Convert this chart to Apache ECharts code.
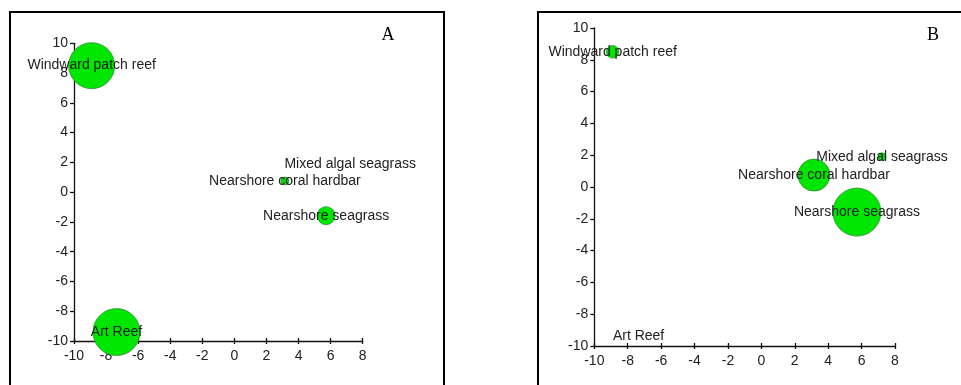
<!DOCTYPE html>
<html>
<head>
<meta charset="utf-8">
<script src="https://cdn.jsdelivr.net/npm/echarts@6/dist/echarts.min.js"></script>
<style>
html,body{margin:0;padding:0;background:#fff;}
#chart{width:961px;height:385px;}
</style>
</head>
<body>
<div id="chart"></div>
<script>
// Habitat names
var habitats = ['Windward patch reef', 'Art Reef', 'Nearshore coral hardbar', 'Nearshore seagrass', 'Mixed algal seagrass'];
// Ordination coordinates
var xCoord = [-8.9, -7.35, 3.15, 5.72, 7.22];
var yCoord = [8.5, -9.4, 0.75, -1.58, 1.9];
// Bubble sizes (diameter, px) for panel A and panel B
var sizeA = [46, 47, 8, 18, 0];
var sizeB = [12.5, 0, 32, 48, 8];
// Axis ticks
var xTicks = [-10, -8, -6, -4, -2, 0, 2, 4, 6, 8];
var yTicks = [-10, -8, -6, -4, -2, 0, 2, 4, 6, 8, 10];
var panelLetters = ['A', 'B'];

function pts(sizes) {
  return habitats.map(function (h, i) {
    return { name: h, value: [xCoord[i], yCoord[i], sizes[i]] };
  });
}

var FONT = 'Liberation Sans, Arial, sans-serif';
var axisText = { color: '#222', fontSize: 14, fontFamily: FONT };

function xAxisCfg(idx) {
  return {
    type: 'value', gridIndex: idx, min: xTicks[0], max: xTicks[xTicks.length - 1], interval: 2,
    axisLine: { onZero: false, lineStyle: { color: '#111', width: 1.3 } },
    axisTick: { show: true, length: 3, lineStyle: { color: '#111', width: 1.3 } },
    axisLabel: Object.assign({ margin: 8 }, axisText),
    splitLine: { show: false }
  };
}
function xAxisInner(idx) {
  return {
    type: 'value', gridIndex: idx, min: xTicks[0], max: xTicks[xTicks.length - 1], interval: 2,
    position: 'bottom',
    axisLine: { show: false, onZero: false },
    axisTick: { show: true, inside: true, length: 3, lineStyle: { color: '#111', width: 1.3 } },
    axisLabel: { show: false },
    splitLine: { show: false }
  };
}
function yAxisCfg(idx) {
  return {
    type: 'value', gridIndex: idx, min: yTicks[0], max: yTicks[yTicks.length - 1], interval: 2,
    axisLine: { onZero: false, lineStyle: { color: '#111', width: 1.3 } },
    axisTick: { show: true, length: 4, lineStyle: { color: '#111', width: 1.3 } },
    axisLabel: Object.assign({ margin: 6 }, axisText),
    splitLine: { show: false }
  };
}
function seriesCfg(idx, sizes) {
  return {
    type: 'scatter', xAxisIndex: idx, yAxisIndex: idx,
    data: pts(sizes),
    symbolSize: function (v) { return v[2]; },
    itemStyle: { color: '#00e600', borderColor: '#2f8f2f', borderWidth: 0.8, opacity: 1 },
    label: {
      show: true, position: 'inside', formatter: '{b}',
      color: '#222', fontSize: 14, fontFamily: FONT
    },
    emphasis: { disabled: true },
    z: 3
  };
}

var chart = echarts.init(document.getElementById('chart'), null, { renderer: 'canvas' });
chart.setOption({
  animation: false,
  backgroundColor: '#fff',
  grid: [
    { left: 74, top: 43.3, width: 288.7, height: 297.7 },
    { left: 594.3, top: 28, width: 300.7, height: 318 }
  ],
  xAxis: [xAxisCfg(0), xAxisCfg(1), xAxisInner(0), xAxisInner(1)],
  yAxis: [yAxisCfg(0), yAxisCfg(1)],
  series: [seriesCfg(0, sizeA), seriesCfg(1, sizeB)],
  graphic: [
    { type: 'rect', shape: { x: 10, y: 12, width: 434, height: 420 },
      style: { fill: 'none', stroke: '#000', lineWidth: 2 }, z: 0 },
    { type: 'rect', shape: { x: 538, y: 12, width: 460, height: 420 },
      style: { fill: 'none', stroke: '#000', lineWidth: 2 }, z: 0 },
    { type: 'text', x: 388, y: 35,
      style: { text: panelLetters[0], fill: '#000', font: '18px "Liberation Serif", "Times New Roman", serif', align: 'center', verticalAlign: 'middle' } },
    { type: 'text', x: 933, y: 35,
      style: { text: panelLetters[1], fill: '#000', font: '18px "Liberation Serif", "Times New Roman", serif', align: 'center', verticalAlign: 'middle' } }
  ]
});
</script>
</body>
</html>
